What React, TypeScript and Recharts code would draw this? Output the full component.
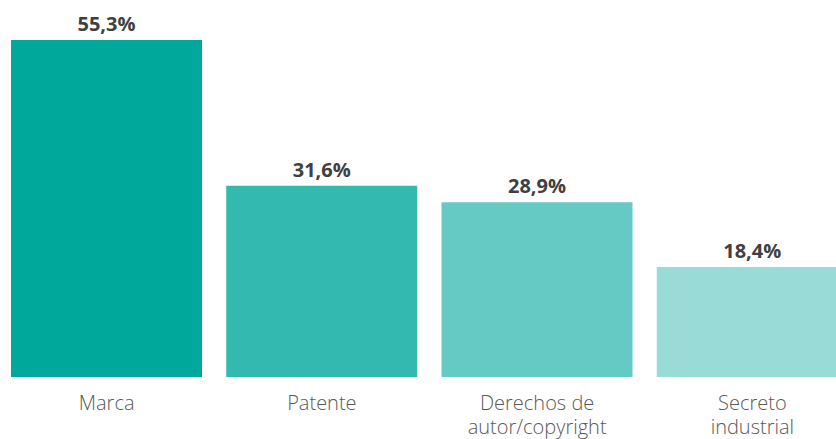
import React from "react";
import { BarChart, Bar, XAxis, YAxis, Cell, LabelList } from "recharts";

const categories = ["Marca", "Patente", "Derechos de\nautor/copyright", "Secreto\nindustrial"];
const values = [55.3, 31.6, 28.9, 18.4];
const colors = ["#00A89C", "#33B9B0", "#66CAC4", "#99DCD7"];

const data = categories.map((c, i) => ({ name: c, value: values[i] }));

const FONT = "'Open Sans', 'Noto Sans', sans-serif";

const Tick = (props: any) => {
  const { x, y, payload } = props;
  const lines = String(payload.value).split("\n");
  return (
    <text
      x={x}
      y={y}
      textAnchor="middle"
      fill="#595959"
      fontFamily={FONT}
      fontSize={20}
      fontWeight={300}
    >
      {lines.map((l, i) => (
        <tspan key={i} x={x} dy={i === 0 ? 25 : 24}>
          {l}
        </tspan>
      ))}
    </text>
  );
};

export default function App() {
  return (
    <div style={{ position: "absolute", left: -1, top: 0 }}>
      <BarChart
        width={861}
        height={439}
        data={data}
        margin={{ top: 40, right: 0, bottom: 0, left: 0 }}
      >
        <XAxis
          dataKey="name"
          axisLine={false}
          tickLine={false}
          interval={0}
          height={62}
          tick={<Tick />}
        />
        <YAxis hide domain={[0.5, 55.3]} />
        <Bar dataKey="value" barSize={191} isAnimationActive={false}>
          {data.map((d, i) => (
            <Cell key={i} fill={colors[i]} />
          ))}
          <LabelList
            dataKey="value"
            position="top"
            offset={9}
            formatter={(v: any) => String(v).replace(".", ",") + "%"}
            style={{ fill: "#404040", fontFamily: FONT, fontSize: 20, fontWeight: 700 }}
          />
        </Bar>
      </BarChart>
    </div>
  );
}
